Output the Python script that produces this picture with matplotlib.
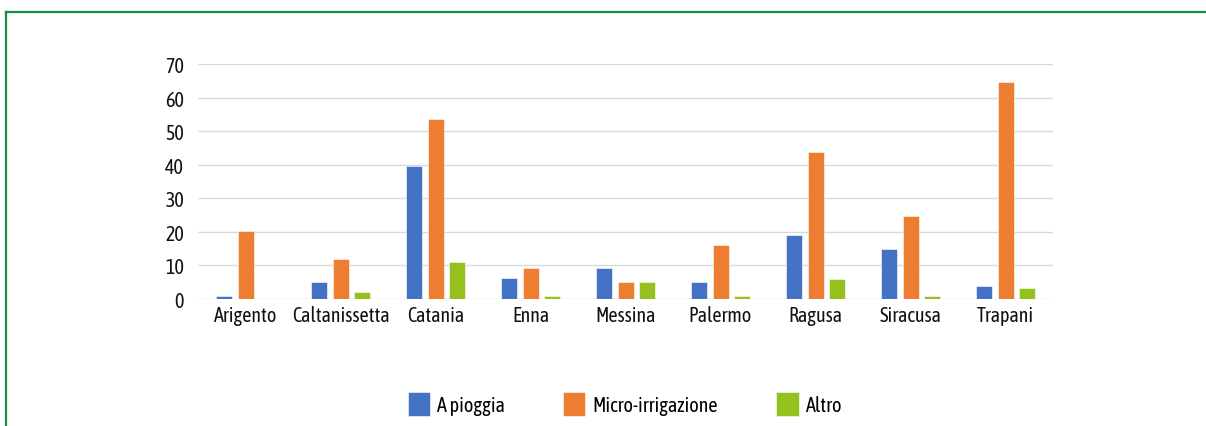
import matplotlib
matplotlib.use("Agg")
import matplotlib.pyplot as plt
from matplotlib.lines import Line2D
import numpy as np

categories = ["Arigento", "Caltanissetta", "Catania", "Enna", "Messina",
              "Palermo", "Ragusa", "Siracusa", "Trapani"]
a_pioggia = [0.8, 5.0, 39.7, 6.2, 9.1, 5.0, 19.0, 15.0, 3.8]
micro_irrigazione = [20.3, 12.0, 53.7, 9.1, 5.0, 16.2, 43.7, 24.8, 64.5]
altro = [0.0, 2.1, 10.9, 0.9, 5.0, 0.8, 6.1, 0.8, 3.2]
series_names = ["A pioggia", "Micro-irrigazione", "Altro"]
colors = ["#4472C4", "#ED7D31", "#95C11F"]
yticks = [0, 10, 20, 30, 40, 50, 60, 70]

plt.rcParams['font.family'] = ['Asap Condensed', 'Barlow Semi Condensed', 'DejaVu Sans']

fig = plt.figure(figsize=(12.06, 4.27), dpi=100)
W, H = 1206, 427
ax = fig.add_axes([198 / W, 1 - 300 / H, (1053 - 198) / W, (300 - 65) / H])

x = np.arange(len(categories))
bw = 16 / 95
step = 21.5 / 95
for i, (vals, name, c) in enumerate(zip([a_pioggia, micro_irrigazione, altro], series_names, colors)):
    ax.bar(x + (i - 1) * step, vals, width=bw, color=c, label=name,
           edgecolor="white", linewidth=0.4, zorder=3)

ax.set_xlim(-0.5, len(categories) - 0.5)
ax.set_ylim(0, 70)
ax.set_yticks(yticks)
ax.set_yticklabels([str(v) for v in yticks])
ax.set_xticks(x)
ax.set_xticklabels(categories)
ax.tick_params(axis="both", length=0, labelsize=14.5, colors="#111111")
ax.tick_params(axis="y", pad=10)
ax.tick_params(axis="x", pad=4)
ax.grid(axis="y", color="#d9d9d9", linewidth=1.0, zorder=0)
for s in ax.spines.values():
    s.set_visible(False)

leg = fig.legend(loc="center", bbox_to_anchor=(625 / W, 1 - 405 / H), ncol=3,
                 frameon=False, fontsize=14.5, handlelength=1.1, handleheight=1.5,
                 handletextpad=0.35, columnspacing=2.9)

# green frame (top and left edges)
fig.add_artist(Line2D([6 / W, 1.0], [1 - 13 / H, 1 - 13 / H], color="#1a8a48", linewidth=1.6,
                      transform=fig.transFigure))
fig.add_artist(Line2D([6 / W, 6 / W], [0, 1 - 13 / H], color="#1a8a48", linewidth=1.6,
                      transform=fig.transFigure))

fig.savefig("out.png", dpi=100)
